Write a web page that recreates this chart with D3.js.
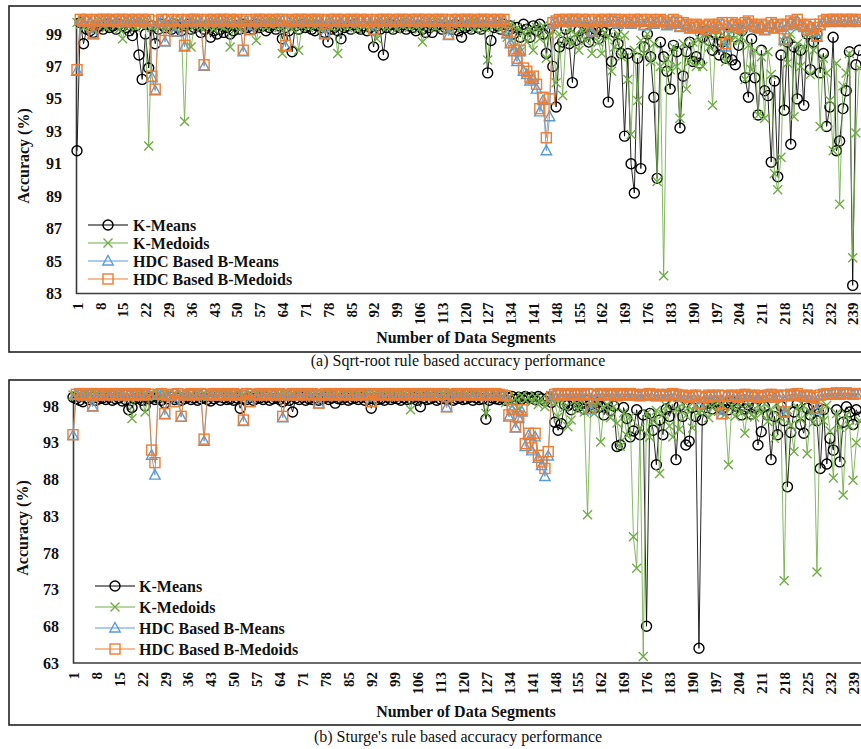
<!DOCTYPE html>
<html>
<head>
<meta charset="utf-8">
<style>
  body { margin: 0; background: #fff; }
  svg { display: block; font-family: "Liberation Serif", "Times New Roman", serif; }
</style>
</head>
<body>
<script src="https://d3js.org/d3.v7.min.js"></script>
<svg id="chart" width="861" height="749"></svg>
<script>
var seriesNames = ["K-Means", "K-Medoids", "HDC Based B-Means", "HDC Based B-Medoids"];
var seriesColors = ["#000000", "#70AD47", "#5B9BD5", "#ED7D31"];
var seriesSymbols = ["circle", "cross", "triangle", "square"];

var yTicksA = [83, 85, 87, 89, 91, 93, 95, 97, 99];
var yTicksB = [63, 68, 73, 78, 83, 88, 93, 98];
var xTickLabels = [1, 8, 15, 22, 29, 36, 43, 50, 57, 64, 71, 78, 85, 92, 99, 106, 113, 120, 127, 134,
  141, 148, 155, 162, 169, 176, 183, 190, 197, 204, 211, 218, 225, 232, 239];

// (a) Sqrt-root rule, accuracy per data segment 1..241
var kMeansA = [
  91.8, 99.7, 98.4, 99.3, 99.2, 99.1, 99.4, 99.5, 99.3, 99.6,
  99.4, 99.5, 99.3, 99.6, 99.5, 99.4, 99.2, 98.9, 99.5, 97.7,
  96.2, 99.0, 96.9, 99.5, 98.4, 99.3, 99.6, 99.4, 99.5, 99.3,
  99.6, 99.4, 99.2, 99.5, 99.6, 99.3, 99.4, 99.5, 99.1, 99.3,
  99.5, 98.8, 99.2, 99.0, 99.3, 99.1, 99.4, 99.0, 99.2, 99.5,
  99.3, 99.6, 99.4, 99.5, 99.3, 99.6, 99.4, 99.5, 99.2, 99.4,
  99.6, 99.3, 99.5, 98.7, 99.4, 99.2, 97.9, 99.5, 99.3, 99.6,
  99.4, 99.5, 99.3, 99.2, 99.5, 99.4, 99.1, 98.5, 99.3, 99.4,
  99.2, 98.7, 99.4, 99.5, 99.3, 99.6, 99.4, 99.3, 99.5, 99.2,
  99.4, 98.2, 99.5, 99.3, 97.7, 99.4, 99.6, 99.3, 99.5, 99.4,
  99.6, 99.3, 99.5, 99.4, 99.2, 99.5, 99.3, 99.1, 99.4, 99.1,
  99.5, 99.6, 99.3, 99.4, 99.5, 99.3, 99.6, 99.2, 98.8, 99.4,
  99.5, 99.3, 99.6, 99.4, 99.3, 99.5, 96.6, 98.6, 99.4, 99.5,
  99.3, 99.6, 99.2, 99.5, 99.0, 99.4, 98.8, 99.6, 99.3, 98.8,
  99.5, 99.2, 99.6, 99.0, 97.8, 99.3, 97.0, 94.5, 98.2, 98.5,
  99.3, 98.4, 96.0, 98.6, 99.2, 98.8, 99.4, 98.5, 99.1, 99.3,
  98.7, 99.2, 99.1, 94.8, 97.3, 99.1, 98.4, 97.8, 92.7, 97.8,
  91.0, 89.2, 97.5, 90.7, 98.2, 99.0, 97.6, 95.1, 90.1, 98.5,
  97.6, 96.7, 95.6, 98.3, 97.9, 93.2, 96.4, 97.9, 98.5, 97.3,
  97.6, 97.2, 98.8, 99.2, 98.6, 98.0, 99.0, 97.7, 98.5, 97.5,
  99.0, 97.4, 97.1, 98.3, 99.2, 96.3, 95.1, 98.7, 96.3, 94.0,
  98.0, 95.5, 95.2, 91.1, 96.1, 90.2, 97.7, 94.3, 98.5, 92.2,
  98.2, 95.0, 98.0, 94.6, 99.0, 96.8, 98.5, 99.0, 96.6, 97.8,
  93.3, 94.5, 98.8, 91.8, 92.4, 94.4, 95.5, 97.9, 83.5, 97.1,
  98.0
];
var kMedoidsA = [
  99.7, 99.6, 99.4, 99.7, 99.5, 99.3, 99.6, 99.7, 99.5, 99.4,
  99.6, 99.7, 99.5, 99.3, 98.7, 99.6, 99.5, 99.7, 99.4, 99.6,
  99.5, 99.7, 92.1, 99.4, 99.6, 99.5, 99.7, 99.3, 99.6, 99.5,
  99.4, 99.7, 99.5, 93.6, 99.6, 98.2, 99.5, 99.7, 99.4, 99.6,
  99.5, 99.7, 99.3, 99.6, 99.5, 99.4, 99.7, 98.2, 99.5, 99.6,
  99.3, 99.7, 99.5, 99.4, 99.6, 98.6, 99.5, 99.7, 99.4, 99.6,
  99.5, 99.7, 99.4, 97.8, 99.6, 99.5, 99.3, 99.7, 98.0, 99.5,
  99.6, 99.4, 99.7, 99.5, 99.6, 99.3, 99.7, 99.5, 99.4, 99.6,
  97.8, 99.5, 99.7, 99.4, 99.6, 99.5, 99.3, 99.7, 99.5, 99.6,
  99.4, 99.7, 98.7, 99.5, 99.6, 99.4, 99.7, 99.5, 99.3, 99.6,
  99.5, 99.7, 99.4, 99.6, 99.5, 99.3, 98.5, 99.6, 99.7, 99.5,
  99.4, 99.6, 99.7, 99.5, 99.3, 99.6, 99.5, 99.7, 99.4, 99.6,
  99.5, 99.7, 99.3, 99.6, 99.5, 99.4, 97.4, 99.6, 99.5, 99.7,
  99.3, 99.5, 98.8, 99.6, 98.2, 99.4, 97.9, 99.1, 98.5, 99.3,
  98.0, 99.4, 98.7, 99.5, 97.5, 98.9, 99.2, 96.0, 99.0, 95.2,
  98.6, 99.3, 98.4, 99.0, 98.0, 99.2, 98.6, 99.4, 97.8, 99.0,
  98.5, 97.8, 99.1, 98.8, 96.7, 98.2, 99.0, 97.6, 98.9, 96.2,
  92.8, 98.0, 94.9, 98.6, 97.8, 99.0, 97.3, 98.4, 89.9, 97.0,
  84.1, 97.5, 96.8, 98.2, 97.0, 93.8, 98.4, 95.6, 97.3, 98.5,
  97.0, 98.7, 97.0, 99.0, 98.2, 94.6, 98.9, 99.2, 98.5, 97.3,
  99.0, 98.6, 99.3, 98.6, 98.8, 96.2, 98.3, 96.8, 98.0, 94.0,
  97.6, 93.8, 97.9, 96.5, 90.4, 89.4, 91.4, 98.5, 97.2, 99.0,
  93.9, 98.4, 97.0, 98.2, 99.0, 96.5, 98.0, 99.1, 93.3, 97.5,
  96.6, 94.9, 91.8, 97.2, 88.5, 95.8, 96.6, 97.8, 85.2, 92.9,
  96.9
];
var bMeansA = [
  96.7, 99.8, 99.7, 99.8, 99.7, 99.0, 99.8, 99.7, 99.8, 99.8,
  99.7, 99.8, 99.7, 99.8, 99.8, 99.7, 99.8, 99.7, 99.8, 99.7,
  99.8, 99.7, 99.8, 96.3, 95.5, 99.7, 99.8, 98.5, 99.8, 99.7,
  99.1, 99.8, 99.7, 98.2, 99.8, 99.7, 99.8, 99.8, 99.7, 97.0,
  99.8, 99.7, 99.8, 99.7, 99.8, 99.8, 99.7, 99.8, 99.7, 99.8,
  99.7, 97.9, 99.8, 99.2, 99.7, 99.8, 99.8, 99.7, 99.8, 99.7,
  99.8, 99.7, 99.8, 99.8, 98.2, 99.7, 99.8, 99.7, 99.8, 99.8,
  99.7, 99.8, 99.7, 99.8, 99.8, 99.7, 99.0, 99.8, 99.7, 99.8,
  99.8, 99.7, 99.8, 99.7, 99.8, 99.8, 99.7, 99.8, 99.7, 99.8,
  99.7, 99.2, 99.8, 99.7, 99.8, 99.8, 99.7, 99.8, 99.7, 99.8,
  99.8, 99.7, 99.8, 99.7, 99.8, 99.8, 99.7, 99.8, 99.7, 99.8,
  99.7, 99.8, 99.8, 99.7, 98.9, 99.8, 99.7, 99.8, 99.7, 99.8,
  99.8, 99.7, 99.8, 99.7, 99.8, 99.8, 99.7, 99.8, 99.7, 99.8,
  99.7, 99.8, 99.0, 98.4, 97.9, 97.3, 97.9, 96.7, 96.5, 96.1,
  96.2, 95.6, 94.2, 94.9, 91.8, 93.9, 99.6, 99.7, 99.8, 99.7,
  99.8, 99.7, 99.8, 99.8, 99.7, 99.8, 99.7, 99.8, 99.1, 99.7,
  99.8, 99.7, 99.8, 99.7, 99.8, 99.8, 99.6, 99.7, 99.8, 99.7,
  99.6, 99.8, 99.7, 99.8, 99.5, 99.7, 99.8, 99.6, 99.7, 99.8,
  99.7, 99.5, 99.6, 99.8, 99.7, 99.4, 99.6, 99.5, 99.3, 99.4,
  99.5, 99.3, 99.4, 99.2, 99.5, 99.4, 99.3, 99.5, 99.6, 98.2,
  99.4, 99.6, 99.5, 99.3, 99.4, 99.6, 99.7, 99.5, 99.4, 99.3,
  99.5, 99.2, 99.4, 99.6, 99.3, 99.5, 99.4, 98.6, 99.5, 99.7,
  99.6, 99.8, 99.5, 99.4, 99.2, 99.5, 99.3, 98.8, 99.5, 99.7,
  99.8, 99.7, 99.8, 99.8, 99.7, 99.8, 99.8, 99.7, 99.8, 99.8,
  99.7
];
var bMedoidsA = [
  96.8, 99.9, 99.8, 99.9, 99.8, 99.0, 99.9, 99.8, 99.9, 99.9,
  99.8, 99.9, 99.8, 99.9, 99.9, 99.8, 99.9, 99.8, 99.9, 99.8,
  99.9, 99.8, 99.9, 96.4, 95.6, 99.8, 99.9, 98.6, 99.9, 99.8,
  99.2, 99.9, 99.8, 98.3, 99.9, 99.8, 99.9, 99.9, 99.8, 97.1,
  99.9, 99.8, 99.9, 99.8, 99.9, 99.9, 99.8, 99.9, 99.8, 99.9,
  99.8, 98.0, 99.9, 99.3, 99.8, 99.9, 99.9, 99.8, 99.9, 99.8,
  99.9, 99.8, 99.9, 99.9, 98.3, 99.8, 99.9, 99.8, 99.9, 99.9,
  99.8, 99.9, 99.8, 99.9, 99.9, 99.8, 99.0, 99.9, 99.8, 99.9,
  99.9, 99.8, 99.9, 99.8, 99.9, 99.9, 99.8, 99.9, 99.8, 99.9,
  99.8, 99.3, 99.9, 99.8, 99.9, 99.9, 99.8, 99.9, 99.8, 99.9,
  99.9, 99.8, 99.9, 99.8, 99.9, 99.9, 99.8, 99.9, 99.8, 99.9,
  99.8, 99.9, 99.9, 99.8, 99.0, 99.9, 99.8, 99.9, 99.8, 99.9,
  99.9, 99.8, 99.9, 99.8, 99.9, 99.9, 99.8, 99.9, 99.8, 99.9,
  99.8, 99.9, 99.1, 98.5, 98.0, 97.5, 98.0, 96.9, 96.7, 96.3,
  96.4, 95.9, 94.4, 95.1, 92.6, 95.0, 99.7, 99.8, 99.9, 99.8,
  99.9, 99.8, 99.9, 99.9, 99.8, 99.9, 99.8, 99.9, 99.2, 99.8,
  99.9, 99.8, 99.9, 99.8, 99.9, 99.9, 99.7, 99.8, 99.9, 99.8,
  99.7, 99.9, 99.8, 99.9, 99.6, 99.8, 99.9, 99.7, 99.8, 99.9,
  99.8, 99.6, 99.7, 99.9, 99.8, 99.5, 99.7, 99.6, 99.4, 99.5,
  99.6, 99.4, 99.5, 99.3, 99.6, 99.5, 99.4, 99.6, 99.7, 98.4,
  99.5, 99.7, 99.6, 99.4, 99.5, 99.7, 99.8, 99.6, 99.5, 99.4,
  99.6, 99.3, 99.5, 99.7, 99.4, 99.6, 99.5, 98.7, 99.6, 99.8,
  99.7, 99.9, 99.6, 99.5, 99.3, 99.6, 99.4, 98.9, 99.6, 99.8,
  99.9, 99.8, 99.9, 99.9, 99.8, 99.9, 99.9, 99.8, 99.9, 99.9,
  99.8
];

// (b) Sturge's rule, accuracy per data segment 1..241
var kMeansB = [
  99.2, 99.0, 98.8, 98.6, 99.1, 98.9, 99.2, 98.8, 99.0, 99.1,
  98.9, 99.2, 98.8, 99.0, 99.1, 98.7, 98.9, 97.5, 97.8, 99.0,
  99.1, 98.8, 98.0, 99.0, 99.2, 98.9, 99.1, 98.8, 98.4, 99.0,
  99.2, 98.9, 99.1, 98.8, 99.0, 99.2, 98.9, 99.1, 98.8, 99.0,
  99.1, 98.9, 98.7, 99.0, 99.2, 98.8, 99.1, 98.9, 99.0, 98.8,
  99.1, 97.7, 99.0, 98.9, 99.2, 98.8, 99.0, 99.1, 98.9, 99.2,
  98.8, 99.0, 99.1, 98.9, 98.6, 99.0, 98.8, 97.2, 99.1, 98.9,
  99.2, 98.8, 99.0, 98.9, 99.1, 98.8, 99.0, 99.2, 98.9, 99.1,
  98.4, 99.0, 98.9, 99.2, 98.8, 99.0, 99.1, 98.9, 99.2, 98.8,
  99.0, 97.7, 99.1, 98.9, 99.0, 98.8, 99.2, 98.9, 99.1, 99.0,
  98.8, 99.1, 98.9, 99.0, 99.2, 98.8, 97.9, 99.1, 98.9, 99.0,
  99.2, 98.8, 99.0, 99.1, 98.9, 99.2, 98.8, 99.0, 99.1, 98.9,
  99.0, 99.2, 98.8, 99.1, 98.9, 99.0, 96.2, 98.8, 99.1, 99.0,
  98.9, 99.2, 98.8, 99.1, 99.3, 98.9, 99.2, 99.0, 99.3, 99.1,
  99.2, 98.9, 99.3, 99.0, 98.7, 99.1, 98.5, 95.8, 94.7, 95.6,
  98.2, 98.1, 97.5, 98.6, 97.9, 98.4, 97.6, 98.8, 98.2, 97.7,
  98.5, 97.9, 96.8, 98.3, 97.4, 98.0, 92.5, 92.7, 97.8, 96.3,
  93.8, 94.6, 97.5, 94.1, 96.8, 68.0, 97.0, 94.7, 90.0, 96.1,
  94.1, 97.6, 96.6, 98.2, 90.7, 98.0, 96.6, 92.7, 93.2, 97.8,
  96.6, 65.0, 96.1, 97.8, 98.4, 97.6, 98.6, 97.9, 97.6, 98.3,
  97.5, 98.6, 98.0, 98.4, 96.8, 97.6, 98.2, 96.9, 97.8, 92.7,
  94.5, 97.9, 96.8, 90.7, 96.6, 94.1, 98.0, 96.0, 87.0, 94.4,
  97.2, 98.3, 95.5, 94.3, 97.7, 96.8, 98.1, 96.0, 89.5, 97.5,
  90.1, 93.6, 92.0, 97.5, 90.4, 95.8, 97.9, 97.2, 95.5, 97.5,
  96.5
];
var kMedoidsB = [
  99.5, 99.3, 99.6, 99.4, 99.2, 99.5, 99.3, 99.6, 99.4, 99.5,
  99.3, 99.6, 99.4, 99.2, 99.5, 99.3, 99.6, 99.1, 96.3, 99.4,
  99.5, 99.3, 97.2, 99.4, 99.6, 99.3, 99.5, 99.4, 99.2, 99.6,
  99.4, 99.5, 99.3, 99.6, 99.4, 99.2, 99.5, 99.3, 99.6, 99.4,
  99.5, 99.3, 99.6, 99.4, 99.2, 99.5, 99.3, 99.6, 99.4, 99.5,
  99.3, 99.6, 99.4, 99.2, 99.5, 99.3, 99.6, 99.4, 99.5, 99.3,
  99.6, 99.4, 99.2, 99.5, 99.3, 99.6, 99.4, 99.5, 99.3, 99.6,
  99.4, 99.2, 99.5, 99.3, 99.6, 99.4, 99.5, 99.3, 99.6, 99.4,
  99.2, 99.5, 99.3, 99.6, 99.4, 99.5, 99.3, 99.6, 99.4, 99.2,
  99.5, 99.3, 99.6, 99.4, 99.5, 99.3, 99.6, 99.4, 99.2, 99.5,
  99.3, 99.6, 99.4, 97.5, 99.5, 99.3, 99.6, 99.4, 99.2, 99.5,
  99.3, 99.6, 99.4, 99.5, 99.3, 99.6, 99.4, 99.2, 99.5, 99.3,
  99.6, 99.4, 99.5, 99.3, 99.6, 99.4, 97.0, 99.5, 99.3, 99.6,
  99.4, 99.2, 98.5, 99.3, 98.0, 99.1, 97.6, 99.4, 98.8, 99.2,
  98.6, 99.3, 98.2, 99.0, 97.9, 98.8, 99.2, 98.4, 96.5, 98.9,
  97.8, 95.2, 96.1, 98.7, 97.5, 98.9, 97.2, 83.2, 98.4, 97.0,
  98.6, 93.1, 97.8, 98.2, 96.4, 97.9, 95.7, 92.5, 97.1, 94.0,
  96.5, 80.2, 75.9, 95.0, 63.9, 97.0, 93.8, 96.0, 97.4, 88.8,
  96.9, 98.0, 95.3, 93.8, 97.6, 94.8, 98.3, 96.7, 97.9, 95.0,
  98.1, 97.2, 97.4, 98.6, 96.4, 97.8, 98.8, 97.3, 98.2, 96.9,
  90.0, 98.0, 96.6, 98.4, 97.1, 94.3, 98.5, 96.8, 96.5, 98.1,
  97.0, 98.3, 95.9, 97.6, 93.6, 98.2, 96.3, 74.2, 97.5, 95.4,
  91.8, 97.8, 96.2, 98.0, 91.5, 97.2, 95.8, 75.4, 97.6, 96.0,
  98.1, 94.6, 88.2, 97.0, 95.1, 85.9, 96.8, 95.3, 87.9, 93.0,
  96.0
];
var bMeansB = [
  94.0, 99.5, 99.6, 99.4, 99.6, 99.5, 97.9, 99.6, 99.4, 99.5,
  99.6, 99.4, 99.5, 99.6, 99.5, 99.4, 99.6, 99.5, 99.4, 99.6,
  99.5, 99.4, 99.6, 99.5, 91.3, 88.6, 99.5, 99.6, 96.8, 99.4,
  99.5, 98.5, 99.6, 96.5, 99.4, 99.5, 99.6, 99.4, 99.5, 99.6,
  93.2, 99.5, 99.4, 99.6, 99.5, 99.4, 99.6, 99.5, 99.4, 99.6,
  99.5, 99.4, 95.9, 99.6, 98.5, 99.5, 99.4, 99.6, 99.5, 99.4,
  99.6, 99.5, 99.4, 99.6, 96.4, 99.5, 99.4, 99.6, 99.5, 99.4,
  99.6, 99.5, 99.4, 99.6, 99.5, 98.3, 99.4, 99.6, 99.5, 99.4,
  99.6, 99.5, 99.4, 99.6, 99.5, 99.4, 99.6, 99.5, 99.4, 99.6,
  99.5, 98.5, 99.6, 99.4, 99.5, 99.6, 99.4, 99.5, 99.6, 99.4,
  99.5, 99.6, 99.4, 99.5, 99.6, 99.4, 99.5, 99.6, 99.4, 99.5,
  99.6, 99.4, 99.5, 99.6, 97.8, 99.5, 99.4, 99.6, 99.5, 99.4,
  99.6, 99.5, 99.4, 99.6, 99.5, 99.4, 99.6, 99.5, 99.4, 99.6,
  99.5, 99.4, 99.3, 96.5, 97.4, 95.0, 96.3, 97.2, 92.5, 94.0,
  91.9, 93.8, 90.9, 89.9, 88.4, 91.2, 99.2, 99.5, 99.6, 99.4,
  99.5, 99.6, 99.4, 99.5, 99.6, 99.4, 99.5, 99.6, 97.5, 99.5,
  99.4, 99.6, 99.5, 99.4, 99.6, 99.5, 99.3, 99.6, 99.5, 99.4,
  99.6, 99.5, 99.4, 99.3, 99.5, 99.4, 99.6, 99.5, 99.3, 99.4,
  99.5, 99.3, 99.4, 99.6, 99.5, 99.2, 99.4, 99.3, 99.1, 99.3,
  99.4, 98.2, 99.2, 99.1, 99.4, 99.3, 99.2, 99.4, 96.8, 99.3,
  99.2, 99.4, 99.3, 99.1, 99.4, 99.5, 99.3, 99.2, 99.4, 99.1,
  99.3, 99.2, 99.4, 99.5, 99.1, 99.3, 99.4, 97.0, 99.3, 99.5,
  99.4, 99.6, 99.3, 99.2, 99.4, 99.3, 99.1, 97.5, 99.4, 99.5,
  99.6, 99.5, 99.6, 99.7, 99.5, 99.6, 99.7, 99.6, 99.5, 99.6,
  99.6
];
var bMedoidsB = [
  94.1, 99.6, 99.7, 99.5, 99.7, 99.6, 98.0, 99.7, 99.5, 99.6,
  99.7, 99.5, 99.6, 99.7, 99.6, 99.5, 99.7, 99.6, 99.5, 99.7,
  99.6, 99.5, 99.7, 99.6, 92.0, 90.3, 99.6, 99.7, 97.0, 99.5,
  99.6, 98.6, 99.7, 96.6, 99.5, 99.6, 99.7, 99.5, 99.6, 99.7,
  93.5, 99.6, 99.5, 99.7, 99.6, 99.5, 99.7, 99.6, 99.5, 99.7,
  99.6, 99.5, 96.1, 99.7, 98.6, 99.6, 99.5, 99.7, 99.6, 99.5,
  99.7, 99.6, 99.5, 99.7, 96.6, 99.6, 99.5, 99.7, 99.6, 99.5,
  99.7, 99.6, 99.5, 99.7, 99.6, 98.4, 99.5, 99.7, 99.6, 99.5,
  99.7, 99.6, 99.5, 99.7, 99.6, 99.5, 99.7, 99.6, 99.5, 99.7,
  99.6, 98.6, 99.7, 99.5, 99.6, 99.7, 99.5, 99.6, 99.7, 99.5,
  99.6, 99.7, 99.5, 99.6, 99.7, 99.5, 99.6, 99.7, 99.5, 99.6,
  99.7, 99.5, 99.6, 99.7, 97.9, 99.6, 99.5, 99.7, 99.6, 99.5,
  99.7, 99.6, 99.5, 99.7, 99.6, 99.5, 99.7, 99.6, 99.5, 99.7,
  99.6, 99.5, 99.4, 96.8, 97.6, 95.2, 96.6, 97.5, 92.9, 94.3,
  92.3, 94.3, 91.3, 90.4, 89.5, 91.8, 99.3, 99.6, 99.7, 99.5,
  99.6, 99.7, 99.5, 99.6, 99.7, 99.5, 99.6, 99.7, 97.7, 99.6,
  99.5, 99.7, 99.6, 99.5, 99.7, 99.6, 99.4, 99.7, 99.6, 99.5,
  99.7, 99.6, 99.5, 99.4, 99.6, 99.5, 99.7, 99.6, 99.4, 99.5,
  99.6, 99.4, 99.5, 99.7, 99.6, 99.3, 99.5, 99.4, 99.2, 99.4,
  99.5, 98.4, 99.3, 99.2, 99.5, 99.4, 99.3, 99.5, 97.0, 99.4,
  99.3, 99.5, 99.4, 99.2, 99.5, 99.6, 99.4, 99.3, 99.5, 99.2,
  99.4, 99.3, 99.5, 99.6, 99.2, 99.4, 99.5, 97.2, 99.4, 99.6,
  99.5, 99.7, 99.4, 99.3, 99.5, 99.4, 99.2, 97.7, 99.5, 99.6,
  99.7, 99.6, 99.7, 99.8, 99.6, 99.7, 99.8, 99.7, 99.6, 99.7,
  99.7
];

var svg = d3.select("#chart");

var panels = [
  {
    series: [kMeansA, kMedoidsA, bMeansA, bMedoidsA],
    yTicks: yTicksA, yDomain: [83, 100],
    frame: [9, 6, 858, 346],
    axisX: 76, x1: 77, x239: 852.7, bottom: 293.5, top: 17.75,
    legend: { x0: 88, x1: 128, tx: 133, rows: [225, 243, 261, 279] },
    yTitle: [23, 156], xTitleY: 343, captionY: 366,
    caption: "(a) Sqrt-root rule based accuracy performance"
  },
  {
    series: [kMeansB, kMedoidsB, bMeansB, bMedoidsB],
    yTicks: yTicksB, yDomain: [63, 100],
    frame: [9, 380, 858, 345],
    axisX: 73, x1: 73, x239: 853, bottom: 663, top: 391.4,
    legend: { x0: 95, x1: 135, tx: 139, rows: [586, 607, 628, 649] },
    yTitle: [22, 528], xTitleY: 717, captionY: 742,
    caption: "(b) Sturge's rule based accuracy performance"
  }
];

function drawMarker(sel, kind, color) {
  if (kind === "circle") {
    sel.append("circle").attr("r", 5);
  } else if (kind === "cross") {
    sel.append("path").attr("d", "M-4.5,-4.5L4.5,4.5M-4.5,4.5L4.5,-4.5");
  } else if (kind === "triangle") {
    sel.append("path").attr("d", "M0,-5.5L5.2,4L-5.2,4Z");
  } else {
    sel.append("rect").attr("x", -5).attr("y", -5).attr("width", 10).attr("height", 10);
  }
  sel.selectAll("*").attr("fill", "none").attr("stroke", color).attr("stroke-width", 1.4);
}

panels.forEach(function(p) {
  var g = svg.append("g");

  g.append("rect")
    .attr("x", p.frame[0]).attr("y", p.frame[1])
    .attr("width", p.frame[2]).attr("height", p.frame[3])
    .attr("fill", "none").attr("stroke", "#222").attr("stroke-width", 1.6);

  var x = d3.scaleLinear().domain([1, 239]).range([p.x1, p.x239]);
  var y = d3.scaleLinear().domain(p.yDomain).range([p.bottom, p.top]);

  // y axis
  var ya = g.append("g").attr("transform", "translate(" + p.axisX + ",0)")
    .call(d3.axisLeft(y).tickValues(p.yTicks).tickSize(0).tickPadding(14));
  ya.select(".domain").attr("stroke", "#3a3a3a").attr("stroke-width", 1.6);
  ya.selectAll("text").attr("font-family", "Liberation Serif, Times New Roman, serif")
    .attr("font-size", 16).attr("font-weight", "bold").attr("fill", "#111");

  // x axis
  var xa = g.append("g").attr("transform", "translate(0," + p.bottom + ")")
    .call(d3.axisBottom(x).tickValues(xTickLabels).tickSize(0));
  xa.select(".domain").remove();
  xa.append("line").attr("x1", p.axisX).attr("x2", 870)
    .attr("stroke", "#3a3a3a").attr("stroke-width", 1.6);
  xa.selectAll(".tick text")
    .attr("transform", "rotate(-90)")
    .attr("x", -9).attr("y", 0).attr("dy", "0.35em")
    .style("text-anchor", "end")
    .attr("font-family", "Liberation Serif, Times New Roman, serif")
    .attr("font-size", 15).attr("font-weight", "bold").attr("fill", "#111");

  // series
  p.series.forEach(function(vals, k) {
    var line = d3.line().x(function(d, i) { return x(i + 1); }).y(function(d) { return y(d); });
    var sg = g.append("g");
    sg.append("path").attr("d", line(vals)).attr("fill", "none")
      .attr("stroke", seriesColors[k]).attr("stroke-width", 1).attr("stroke-opacity", 0.85);
    sg.selectAll("g.m").data(vals).enter().append("g").attr("class", "m")
      .attr("transform", function(d, i) { return "translate(" + x(i + 1) + "," + y(d) + ")"; })
      .each(function() { drawMarker(d3.select(this), seriesSymbols[k], seriesColors[k]); });
  });

  // legend
  seriesNames.forEach(function(name, k) {
    var cy = p.legend.rows[k];
    g.append("line").attr("x1", p.legend.x0).attr("x2", p.legend.x1)
      .attr("y1", cy).attr("y2", cy).attr("stroke", seriesColors[k]).attr("stroke-width", 1.2);
    var m = g.append("g").attr("transform", "translate(" + ((p.legend.x0 + p.legend.x1) / 2) + "," + cy + ")");
    drawMarker(m, seriesSymbols[k], seriesColors[k]);
    g.append("text").attr("x", p.legend.tx).attr("y", cy).attr("dy", "0.35em")
      .attr("font-size", 16).attr("font-weight", "bold").attr("fill", "#111").text(name);
  });

  // titles
  g.append("text")
    .attr("transform", "translate(" + p.yTitle[0] + "," + p.yTitle[1] + ") rotate(-90)")
    .attr("text-anchor", "middle").attr("dy", "0.35em")
    .attr("font-size", 16).attr("font-weight", "bold").attr("fill", "#111")
    .text("Accuracy (%)");
  g.append("text").attr("x", 466).attr("y", p.xTitleY).attr("text-anchor", "middle")
    .attr("font-size", 16).attr("font-weight", "bold").attr("fill", "#111")
    .text("Number of Data Segments");
  g.append("text").attr("x", 458).attr("y", p.captionY).attr("text-anchor", "middle")
    .attr("font-size", 16).attr("fill", "#111")
    .text(p.caption);
});
</script>
</body>
</html>
